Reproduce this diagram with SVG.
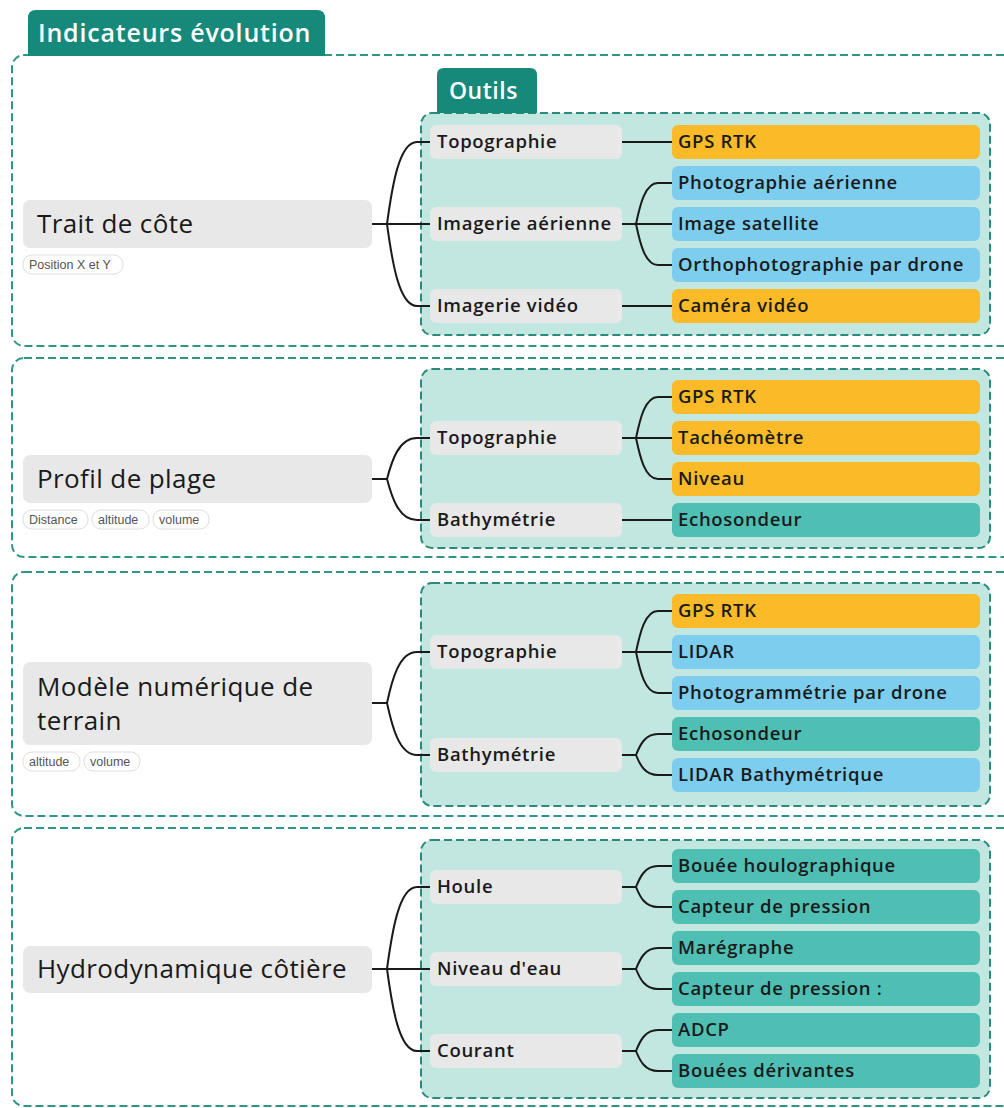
<svg xmlns="http://www.w3.org/2000/svg" width="1004" height="1108" viewBox="0 0 1004 1108">
<style>
.outer{fill:#fff;stroke:#2e9685;stroke-width:2;stroke-dasharray:8 4}
.inner{fill:#c2e6e0;stroke:#2a8a7b;stroke-width:2;stroke-dasharray:8 4}
.tab{fill:#16897a}
.tabt{font-family:"Open Sans","Noto Sans",sans-serif;font-weight:600;fill:#fff}
.main{fill:#e8e8e8}
.maint{font-family:"Open Sans","Noto Sans",sans-serif;font-size:26px;font-weight:500;fill:#1a1a1a;letter-spacing:0.4px}
.sub{fill:#e8e8e8}
.t{font-family:"Open Sans","Noto Sans",sans-serif;font-size:18.5px;font-weight:600;fill:#1a1a1a;letter-spacing:0.7px}
.or{fill:#fbbb28}
.bl{fill:#7dcdee}
.tl{fill:#50bfb3}
.tag{fill:#fff;stroke:#dedede;stroke-width:1}
.tagt{font-family:"Liberation Sans",Arial,sans-serif;font-size:12.5px;fill:#555}
.c{fill:none;stroke:#1a1a1a;stroke-width:2}
</style>
<rect width="1004" height="1108" fill="#fff"/>
<g id="sections">
<rect class="outer" x="12" y="55" width="1010" height="291" rx="12"/>
<rect class="outer" x="12" y="358" width="1010" height="199" rx="12"/>
<rect class="outer" x="12" y="572" width="1010" height="244" rx="12"/>
<rect class="outer" x="12" y="828" width="1010" height="278" rx="12"/>
</g>
<g id="header">
<path class="tab" d="M28,56 V18 Q28,10 36,10 H317 Q325,10 325,18 V56 Z"/>
<text class="tabt" x="38" y="42" font-size="25" letter-spacing="0.8">Indicateurs évolution</text>
</g>
<g id="containers">
<rect class="inner" x="421" y="113" width="569" height="222" rx="11"/>
<rect class="inner" x="421" y="369" width="569" height="179" rx="11"/>
<rect class="inner" x="421" y="583" width="569" height="223" rx="11"/>
<rect class="inner" x="421" y="840" width="569" height="258" rx="11"/>
</g>
<g id="outils">
<path class="tab" d="M437,113 V75 Q437,68 444,68 H530 Q537,68 537,75 V113 Z"/>
<text class="tabt" x="449" y="99" font-size="23" letter-spacing="0.5">Outils</text>
</g>
<g id="connectors">
<path class="c" d="M372,224 H387 M387,224 C392,187 399,142 417,142 H432 M387,224 H432 M387,224 C392,261 399,306 417,306 H432"/>
<path class="c" d="M622,142 H674 M622,224 H636 M636,224 C640,205 645,183 658,183 H674 M636,224 H674 M636,224 C640,243 645,265 658,265 H674 M622,306 H674"/>
<path class="c" d="M372,479 H387 M387,479 C392,460 399,438 417,438 H432 M387,479 C392,498 399,520 417,520 H432"/>
<path class="c" d="M622,438 H636 M636,438 C640,419 645,397 658,397 H674 M636,438 H674 M636,438 C640,457 645,479 658,479 H674 M622,520 H674"/>
<path class="c" d="M372,703 H387 M387,703 C392,680 399,652 417,652 H432 M387,703 C392,726 399,755 417,755 H432"/>
<path class="c" d="M622,652 H636 M636,652 C640,633 645,611 658,611 H674 M636,652 H674 M636,652 C640,671 645,693 658,693 H674"/>
<path class="c" d="M622,755 H636 M636,755 C640,745 645,734 658,734 H674 M636,755 C640,765 645,775 658,775 H674"/>
<path class="c" d="M372,969 H387 M387,969 C392,932 399,887 417,887 H432 M387,969 H432 M387,969 C392,1006 399,1051 417,1051 H432"/>
<path class="c" d="M622,887 H636 M636,887 C640,877 645,866 658,866 H674 M636,887 C640,897 645,907 658,907 H674"/>
<path class="c" d="M622,969 H636 M636,969 C640,959 645,948 658,948 H674 M636,969 C640,979 645,989 658,989 H674"/>
<path class="c" d="M622,1051 H636 M636,1051 C640,1041 645,1030 658,1030 H674 M636,1051 C640,1061 645,1071 658,1071 H674"/>
</g>
<g id="n-trait">
<rect class="main" x="23" y="200" width="349" height="48" rx="7"/>
<text class="maint" x="37" y="233">Trait de côte</text>
<rect class="tag" x="23" y="255" width="100" height="19" rx="9"/>
<text class="tagt" x="29" y="269">Position X et Y</text>
</g>
<g id="n-profil">
<rect class="main" x="23" y="455" width="349" height="48" rx="7"/>
<text class="maint" x="37" y="488">Profil de plage</text>
<rect class="tag" x="23" y="510" width="65" height="19" rx="9"/>
<text class="tagt" x="29" y="524">Distance</text>
<rect class="tag" x="92" y="510" width="57" height="19" rx="9"/>
<text class="tagt" x="98" y="524">altitude</text>
<rect class="tag" x="153" y="510" width="56" height="19" rx="9"/>
<text class="tagt" x="159" y="524">volume</text>
</g>
<g id="n-mnt">
<rect class="main" x="23" y="662" width="349" height="83" rx="7"/>
<text class="maint" x="37" y="696">Modèle numérique de</text>
<text class="maint" x="37" y="730">terrain</text>
<rect class="tag" x="23" y="752" width="57" height="19" rx="9"/>
<text class="tagt" x="29" y="766">altitude</text>
<rect class="tag" x="84" y="752" width="56" height="19" rx="9"/>
<text class="tagt" x="90" y="766">volume</text>
</g>
<g id="n-hydro">
<rect class="main" x="23" y="946" width="349" height="47" rx="7"/>
<text class="maint" x="37" y="978">Hydrodynamique côtière</text>
</g>
<g id="s1-cat">
<g id="s1-topo"><rect class="sub" x="430" y="125" width="192" height="34" rx="6"/><text class="t" x="437" y="148">Topographie</text></g>
<g id="s1-imga"><rect class="sub" x="430" y="207" width="192" height="34" rx="6"/><text class="t" x="437" y="230">Imagerie aérienne</text></g>
<g id="s1-imgv"><rect class="sub" x="430" y="289" width="192" height="34" rx="6"/><text class="t" x="437" y="312">Imagerie vidéo</text></g>
</g>
<g id="s1-tools">
<g id="s1-gps"><rect class="or" x="672" y="125" width="308" height="34" rx="6"/><text class="t" x="678" y="148">GPS RTK</text></g>
<g id="s1-photo"><rect class="bl" x="672" y="166" width="308" height="34" rx="6"/><text class="t" x="678" y="189">Photographie aérienne</text></g>
<g id="s1-sat"><rect class="bl" x="672" y="207" width="308" height="34" rx="6"/><text class="t" x="678" y="230">Image satellite</text></g>
<g id="s1-ortho"><rect class="bl" x="672" y="248" width="308" height="34" rx="6"/><text class="t" x="678" y="271">Orthophotographie par drone</text></g>
<g id="s1-cam"><rect class="or" x="672" y="289" width="308" height="34" rx="6"/><text class="t" x="678" y="312">Caméra vidéo</text></g>
</g>
<g id="s2-cat">
<g id="s2-topo"><rect class="sub" x="430" y="421" width="192" height="34" rx="6"/><text class="t" x="437" y="444">Topographie</text></g>
<g id="s2-bathy"><rect class="sub" x="430" y="503" width="192" height="34" rx="6"/><text class="t" x="437" y="526">Bathymétrie</text></g>
</g>
<g id="s2-tools">
<g id="s2-gps"><rect class="or" x="672" y="380" width="308" height="34" rx="6"/><text class="t" x="678" y="403">GPS RTK</text></g>
<g id="s2-tach"><rect class="or" x="672" y="421" width="308" height="34" rx="6"/><text class="t" x="678" y="444">Tachéomètre</text></g>
<g id="s2-niv"><rect class="or" x="672" y="462" width="308" height="34" rx="6"/><text class="t" x="678" y="485">Niveau</text></g>
<g id="s2-echo"><rect class="tl" x="672" y="503" width="308" height="34" rx="6"/><text class="t" x="678" y="526">Echosondeur</text></g>
</g>
<g id="s3-cat">
<g id="s3-topo"><rect class="sub" x="430" y="635" width="192" height="34" rx="6"/><text class="t" x="437" y="658">Topographie</text></g>
<g id="s3-bathy"><rect class="sub" x="430" y="738" width="192" height="34" rx="6"/><text class="t" x="437" y="761">Bathymétrie</text></g>
</g>
<g id="s3-tools">
<g id="s3-gps"><rect class="or" x="672" y="594" width="308" height="34" rx="6"/><text class="t" x="678" y="617">GPS RTK</text></g>
<g id="s3-lidar"><rect class="bl" x="672" y="635" width="308" height="34" rx="6"/><text class="t" x="678" y="658">LIDAR</text></g>
<g id="s3-photog"><rect class="bl" x="672" y="676" width="308" height="34" rx="6"/><text class="t" x="678" y="699">Photogrammétrie par drone</text></g>
<g id="s3-echo"><rect class="tl" x="672" y="717" width="308" height="34" rx="6"/><text class="t" x="678" y="740">Echosondeur</text></g>
<g id="s3-lidarb"><rect class="bl" x="672" y="758" width="308" height="34" rx="6"/><text class="t" x="678" y="781">LIDAR Bathymétrique</text></g>
</g>
<g id="s4-cat">
<g id="s4-houle"><rect class="sub" x="430" y="870" width="192" height="34" rx="6"/><text class="t" x="437" y="893">Houle</text></g>
<g id="s4-niveau"><rect class="sub" x="430" y="952" width="192" height="34" rx="6"/><text class="t" x="437" y="975">Niveau d'eau</text></g>
<g id="s4-courant"><rect class="sub" x="430" y="1034" width="192" height="34" rx="6"/><text class="t" x="437" y="1057">Courant</text></g>
</g>
<g id="s4-tools">
<g id="s4-bouee"><rect class="tl" x="672" y="849" width="308" height="34" rx="6"/><text class="t" x="678" y="872">Bouée houlographique</text></g>
<g id="s4-capt1"><rect class="tl" x="672" y="890" width="308" height="34" rx="6"/><text class="t" x="678" y="913">Capteur de pression</text></g>
<g id="s4-mareg"><rect class="tl" x="672" y="931" width="308" height="34" rx="6"/><text class="t" x="678" y="954">Marégraphe</text></g>
<g id="s4-capt2"><rect class="tl" x="672" y="972" width="308" height="34" rx="6"/><text class="t" x="678" y="995">Capteur de pression :</text></g>
<g id="s4-adcp"><rect class="tl" x="672" y="1013" width="308" height="34" rx="6"/><text class="t" x="678" y="1036">ADCP</text></g>
<g id="s4-derive"><rect class="tl" x="672" y="1054" width="308" height="34" rx="6"/><text class="t" x="678" y="1077">Bouées dérivantes</text></g>
</g>
</svg>
